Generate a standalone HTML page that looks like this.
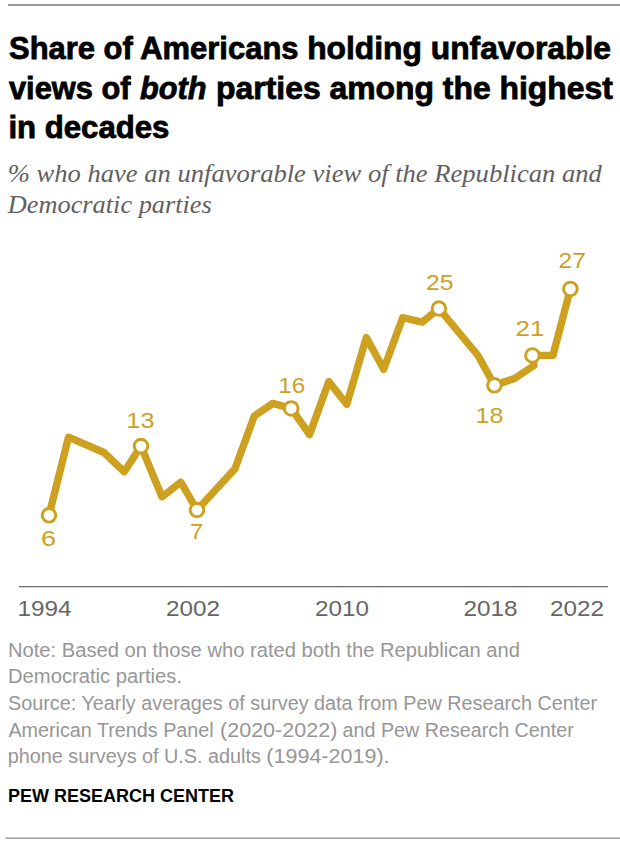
<!DOCTYPE html>
<html>
<head>
<meta charset="utf-8">
<style>
html,body{margin:0;padding:0;background:#fff;}
body{width:620px;height:846px;overflow:hidden;position:relative;}
svg{position:absolute;left:0;top:0;display:block;}
.t{font-family:"Liberation Sans",sans-serif;font-weight:bold;font-size:31px;fill:#000;stroke:#000;stroke-width:0.8px;}
.s{font-family:"Liberation Serif",serif;font-style:italic;font-size:25px;fill:#606060;}
.n{font-family:"Liberation Sans",sans-serif;font-size:19.5px;fill:#969696;}
.p{font-family:"Liberation Sans",sans-serif;font-weight:bold;font-size:17.5px;fill:#000;}
.ax{font-family:"Liberation Sans",sans-serif;font-size:22px;fill:#666;}
.dl{font-family:"Liberation Sans",sans-serif;font-size:22px;fill:#CDA11F;}
</style>
</head>
<body>
<svg width="620" height="846" viewBox="0 0 620 846">
  <rect x="8" y="4" width="612" height="2" fill="#999"/>
  <text id="t1a" class="t" x="9.00" y="59" textLength="289.50" lengthAdjust="spacingAndGlyphs">Share of Americans</text>
  <text id="t1b" class="t" x="307.20" y="59" textLength="303.80" lengthAdjust="spacingAndGlyphs">holding unfavorable</text>
  <text id="t2a" class="t" x="9.00" y="98.5" textLength="121.50" lengthAdjust="spacingAndGlyphs">views of</text>
  <text id="t2b" class="t" x="139.90" y="98.5" textLength="66.50" lengthAdjust="spacingAndGlyphs" font-style="italic">both</text>
  <text id="t2c" class="t" x="216.10" y="98.5" textLength="396.70" lengthAdjust="spacingAndGlyphs">parties among the highest</text>
  <text class="t" x="8.4" y="137.5" textLength="161" lengthAdjust="spacingAndGlyphs">in decades</text>

  <text class="s" x="7.8" y="181.5" textLength="594" lengthAdjust="spacingAndGlyphs">% who have an unfavorable view of the Republican and</text>
  <text class="s" x="7.8" y="213" textLength="204" lengthAdjust="spacingAndGlyphs">Democratic parties</text>

  <!-- chart -->
  <rect x="19" y="586" width="589" height="1.3" fill="#707070"/>
  <polyline fill="none" stroke="#CDA11F" stroke-width="7.4" stroke-linejoin="round" stroke-linecap="round"
    points="49,515.3 68.5,437.2 104,452.5 124.2,471.7 141,446.1 162,496.8 180.8,482.2 197,510 235,468.7 254.3,416 272.8,403.4 291.2,408.4 309.6,434.5 328.8,381.6 346.8,404.3 366.3,337.5 383.7,369.3 402.6,317.7 422.3,322.1 438.9,308.5 478,355.5 494.4,385.3 514.5,378.5 534,365.5 532.4,355.4 553,355.3 570.4,288.9"/>
  <g fill="#fff" stroke="#CDA11F" stroke-width="2.9">
    <circle cx="49" cy="515.3" r="6.8"/>
    <circle cx="141" cy="446.1" r="6.8"/>
    <circle cx="197" cy="510" r="6.8"/>
    <circle cx="291.2" cy="408.4" r="6.8"/>
    <circle cx="438.9" cy="308.5" r="6.8"/>
    <circle cx="494.4" cy="385.3" r="6.8"/>
    <circle cx="532.4" cy="355.4" r="6.8"/>
    <circle cx="570.4" cy="288.9" r="6.8"/>
  </g>

  <text class="dl" x="40.90" y="546" textLength="15.10" lengthAdjust="spacingAndGlyphs">6</text>
  <text class="dl" x="126.30" y="428" textLength="28.20" lengthAdjust="spacingAndGlyphs">13</text>
  <text class="dl" x="190.00" y="539" textLength="13.20" lengthAdjust="spacingAndGlyphs">7</text>
  <text class="dl" x="278.20" y="393" textLength="27.00" lengthAdjust="spacingAndGlyphs">16</text>
  <text class="dl" x="426.00" y="290" textLength="27.40" lengthAdjust="spacingAndGlyphs">25</text>
  <text class="dl" x="475.60" y="423" textLength="27.80" lengthAdjust="spacingAndGlyphs">18</text>
  <text class="dl" x="515.50" y="336" textLength="28.90" lengthAdjust="spacingAndGlyphs">21</text>
  <text class="dl" x="558.50" y="268" textLength="27.40" lengthAdjust="spacingAndGlyphs">27</text>

  <text class="ax" x="17.5" y="616" textLength="54" lengthAdjust="spacingAndGlyphs">1994</text>
  <text class="ax" x="166" y="616" textLength="54" lengthAdjust="spacingAndGlyphs">2002</text>
  <text class="ax" x="315" y="616" textLength="54" lengthAdjust="spacingAndGlyphs">2010</text>
  <text class="ax" x="463.5" y="616" textLength="54" lengthAdjust="spacingAndGlyphs">2018</text>
  <text class="ax" x="550" y="616" textLength="54" lengthAdjust="spacingAndGlyphs">2022</text>

  <!-- notes -->
  <text class="n" x="8" y="657" textLength="512" lengthAdjust="spacingAndGlyphs">Note: Based on those who rated both the Republican and</text>
  <text class="n" x="8" y="683" textLength="174" lengthAdjust="spacingAndGlyphs">Democratic parties.</text>
  <text class="n" x="8" y="710" textLength="589" lengthAdjust="spacingAndGlyphs">Source: Yearly averages of survey data from Pew Research Center</text>
  <text id="n4a" class="n" x="8.40" y="736.5" textLength="205.30" lengthAdjust="spacingAndGlyphs">American Trends Panel</text>
  <text id="n4b" class="n" x="220.00" y="736.5" textLength="117.40" lengthAdjust="spacingAndGlyphs">(2020-2022)</text>
  <text id="n4c" class="n" x="342.60" y="736.5" textLength="231.20" lengthAdjust="spacingAndGlyphs">and Pew Research Center</text>
  <text id="n5a" class="n" x="7.80" y="763" textLength="253.10" lengthAdjust="spacingAndGlyphs">phone surveys of U.S. adults</text>
  <text id="n5b" class="n" x="266.30" y="763" textLength="123.30" lengthAdjust="spacingAndGlyphs">(1994-2019).</text>
  <text class="p" x="8" y="802" textLength="226" lengthAdjust="spacingAndGlyphs">PEW RESEARCH CENTER</text>

  <rect x="5.5" y="837.5" width="614.5" height="1.5" fill="#a0a0a0"/>
</svg>
</body>
</html>
